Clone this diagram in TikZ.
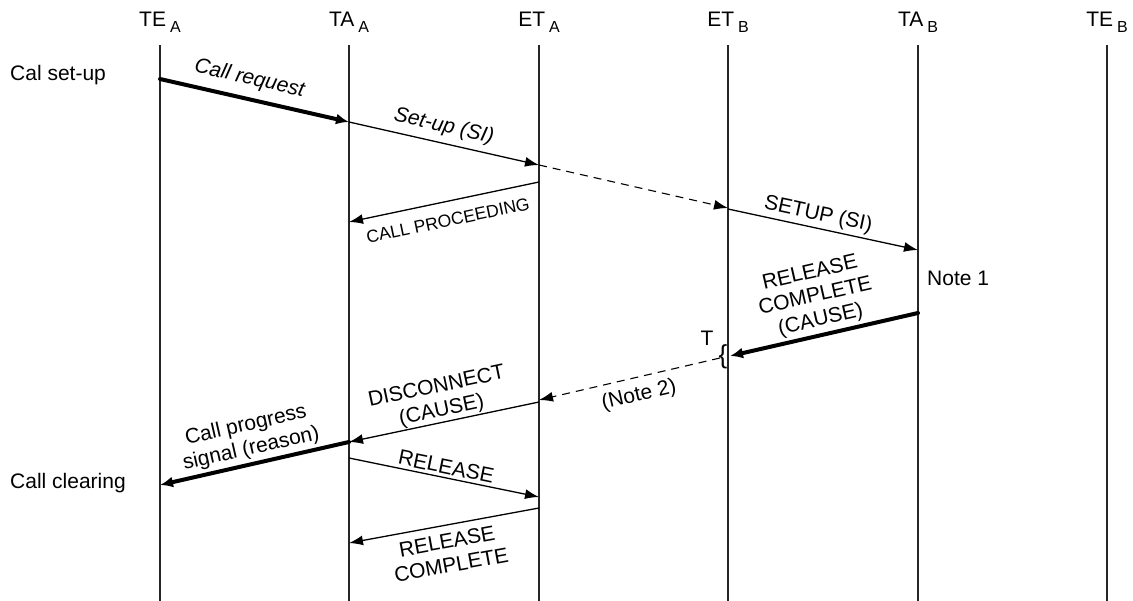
\documentclass[tikz,border=0pt]{standalone}
\usepackage{fontspec}
\setmainfont{Liberation Sans}
\usetikzlibrary{arrows.meta}
\begin{document}
\begin{tikzpicture}[x=1pt,y=-1pt,
  lbl/.style={font=\fontsize{21}{24}\selectfont, inner sep=3pt, align=center},
  smalllbl/.style={font=\fontsize{17.5}{20}\selectfont, inner sep=3pt},
  life/.style={line width=1.3pt, draw=black!85},
  msg/.style={line width=1.3pt, -{Latex[length=14pt,width=10pt]}},
  bigmsg/.style={line width=4pt, line cap=round, -{Latex[length=13pt,width=11pt]}},
  dmsg/.style={line width=1.1pt, dash pattern=on 8pt off 6pt, -{Latex[length=14pt,width=10pt]}},
]
\useasboundingbox (0,0) rectangle (1133,601);
% headers
\node[lbl, anchor=base] (hTEA) at (160,27) {TE\hspace{4pt}\raisebox{-6pt}{\fontsize{16}{16}\selectfont A}};
\node[lbl, anchor=base] (hTAA) at (349,27) {TA\hspace{4pt}\raisebox{-6pt}{\fontsize{16}{16}\selectfont A}};
\node[lbl, anchor=base] (hETA) at (539,27) {ET\hspace{4pt}\raisebox{-6pt}{\fontsize{16}{16}\selectfont A}};
\node[lbl, anchor=base] (hETB) at (728,27) {ET\hspace{4pt}\raisebox{-6pt}{\fontsize{16}{16}\selectfont B}};
\node[lbl, anchor=base] (hTAB) at (918,27) {TA\hspace{4pt}\raisebox{-6pt}{\fontsize{16}{16}\selectfont B}};
\node[lbl, anchor=base] (hTEB) at (1107,27) {TE\hspace{4pt}\raisebox{-6pt}{\fontsize{16}{16}\selectfont B}};
% lifelines
\coordinate (tTEA) at (160,45);  \coordinate (bTEA) at (160,601);
\coordinate (tTAA) at (349,45);  \coordinate (bTAA) at (349,601);
\coordinate (tETA) at (539,45);  \coordinate (bETA) at (539,601);
\coordinate (tETB) at (728,45);  \coordinate (bETB) at (728,601);
\coordinate (tTAB) at (918,45);  \coordinate (bTAB) at (918,601);
\coordinate (tTEB) at (1107,45); \coordinate (bTEB) at (1107,601);
\foreach \n in {TEA,TAA,ETA,ETB,TAB,TEB} {\draw[life] (t\n) -- (b\n);}
% side texts
\node[lbl, anchor=west, inner sep=0pt] (calsetup) at (10,75) {Cal set-up};
\node[lbl, anchor=west, inner sep=0pt] (callclear) at (10,483) {Call clearing};
\node[lbl, anchor=west, inner sep=0pt] (note1) at (927,278) {Note 1};
\node[lbl, inner sep=0pt] (tlabel) at (707,338) {T};
\node[font=\fontsize{26}{26}\selectfont, inner sep=0pt] (brace) at (723,357) {\{};
% message endpoints
\coordinate (m1s) at (160,79);  \coordinate (m1e) at (349,122);
\coordinate (m2s) at (349,122); \coordinate (m2e) at (539,165);
\coordinate (m3s) at (539,165); \coordinate (m3e) at (728,208);
\coordinate (m4s) at (539,182); \coordinate (m4e) at (349,222);
\coordinate (m5s) at (728,209); \coordinate (m5e) at (918,250);
\coordinate (m6s) at (918,313); \coordinate (m6e) at (730,356);
\coordinate (m7s) at (720,358); \coordinate (m7e) at (539,400);
\coordinate (m8s) at (539,402); \coordinate (m8e) at (349,442);
\coordinate (m9s) at (349,442); \coordinate (m9e) at (160,485);
\coordinate (m10s) at (349,458); \coordinate (m10e) at (539,497);
\coordinate (m11s) at (539,508); \coordinate (m11e) at (349,543);
% messages
\draw[bigmsg] (m1s) -- node[lbl, sloped, above=5pt, pos=0.45] {\itshape Call request} (m1e);
\draw[msg] (m2s) -- node[lbl, sloped, above=3pt, pos=0.48] {\itshape Set-up (SI)} (m2e);
\draw[dmsg] (m3s) -- (m3e);
\draw[msg] (m4s) -- node[smalllbl, sloped, below=9pt] {CALL PROCEEDING} (m4e);
\draw[msg] (m5s) -- node[lbl, sloped, above, pos=0.46] {SETUP (SI)} (m5e);
\draw[bigmsg] (m6s) -- node[lbl, sloped, above] {RELEASE\\COMPLETE\\(CAUSE)} (m6e);
\draw[dmsg] (m7s) -- node[lbl, sloped, below=5pt, pos=0.47] {(Note 2)} (m7e);
\draw[msg] (m8s) -- node[lbl, sloped, above=-2pt] {DISCONNECT\\(CAUSE)} (m8e);
\draw[bigmsg] (m9s) -- node[lbl, sloped, above] {Call progress\\signal (reason)} (m9e);
\draw[msg] (m10s) -- node[lbl, sloped, above] {RELEASE} (m10e);
\draw[msg] (m11s) -- node[lbl, sloped, below=5pt] {RELEASE\\COMPLETE} (m11e);
\end{tikzpicture}
\end{document}
